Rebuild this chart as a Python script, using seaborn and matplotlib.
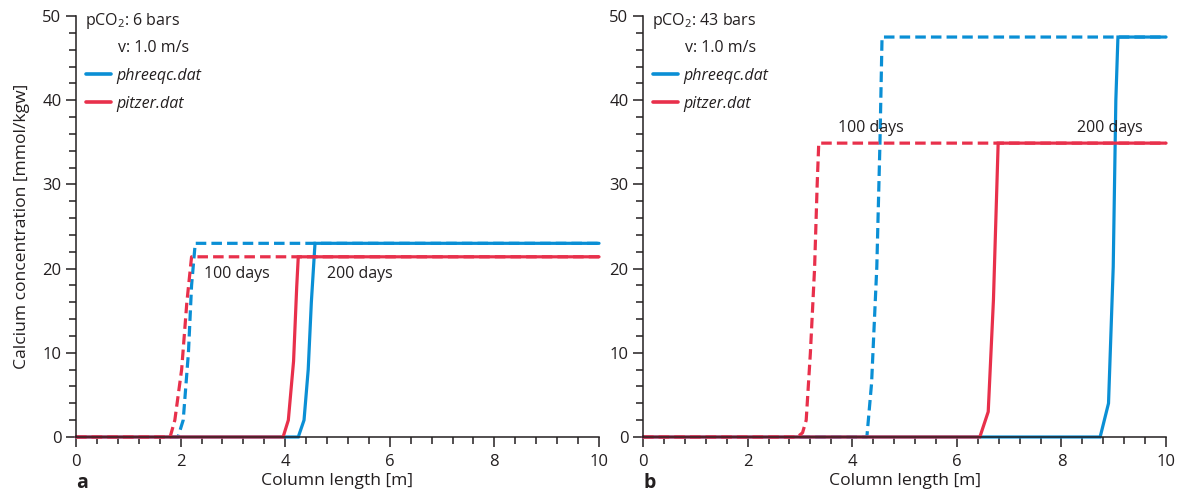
import matplotlib
matplotlib.use("Agg")
import matplotlib.pyplot as plt
from matplotlib.lines import Line2D
from matplotlib.ticker import MultipleLocator
import pandas as pd
import seaborn as sns

# Calcium breakthrough fronts (column length in m, Ca in mmol/kgw)
# Panel a: pCO2 = 6 bars
a_phreeqc_100_x = [0, 1.95, 2.05, 2.15, 2.21, 2.28, 10]
a_phreeqc_100_y = [0, 0, 2, 10, 18, 23.0, 23.0]
a_pitzer_100_x = [0, 1.80, 1.89, 2.02, 2.12, 2.21, 10]
a_pitzer_100_y = [0, 0, 2, 8, 16, 21.4, 21.4]
a_phreeqc_200_x = [0, 4.25, 4.36, 4.44, 4.50, 4.57, 10]
a_phreeqc_200_y = [0, 0, 2, 8, 16, 23.0, 23.0]
a_pitzer_200_x = [0, 3.96, 4.06, 4.16, 4.22, 4.25, 10]
a_pitzer_200_y = [0, 0, 2, 9, 17.8, 21.4, 21.4]

# Panel b: pCO2 = 43 bars
b_phreeqc_100_x = [0, 4.28, 4.37, 4.47, 4.53, 4.57, 10]
b_phreeqc_100_y = [0, 0, 6.4, 20.2, 34.9, 47.5, 47.5]
b_pitzer_100_x = [0, 2.95, 3.05, 3.12, 3.20, 3.28, 3.33, 3.36, 10]
b_pitzer_100_y = [0, 0, 0.5, 2, 10, 20, 30, 34.9, 34.9]
b_phreeqc_200_x = [0, 8.74, 8.90, 8.99, 9.04, 9.08, 10]
b_phreeqc_200_y = [0, 0, 4, 20.2, 40, 47.5, 47.5]
b_pitzer_200_x = [0, 6.44, 6.60, 6.70, 6.79, 10]
b_pitzer_200_y = [0, 0, 3, 16.3, 34.9, 34.9]

databases = ["phreeqc.dat", "pitzer.dat"]
panel_titles = ["6 bars", "43 bars"]
panel_letters = ["a", "b"]
day_labels = ["100 days", "200 days"]

BLUE = "#0a8fd5"
RED = "#e8304b"
INK = "#231f20"

sns.set_theme(style="ticks")
plt.rcParams["font.family"] = ["Open Sans", "DejaVu Sans"]
plt.rcParams["mathtext.default"] = "regular"
plt.rcParams["axes.edgecolor"] = INK
plt.rcParams["text.color"] = INK
plt.rcParams["xtick.color"] = INK
plt.rcParams["ytick.color"] = INK
plt.rcParams["axes.labelcolor"] = INK

FS = 11.5
FS_LABEL = 12.6
FS_TICK = 12.0


def frame(xs, ys, db, days):
    return pd.DataFrame({"x": xs, "y": ys, "db": db, "days": days})


panels = [
    pd.concat([
        frame(a_phreeqc_100_x, a_phreeqc_100_y, "phreeqc.dat", "100"),
        frame(a_phreeqc_200_x, a_phreeqc_200_y, "phreeqc.dat", "200"),
        frame(a_pitzer_100_x, a_pitzer_100_y, "pitzer.dat", "100"),
        frame(a_pitzer_200_x, a_pitzer_200_y, "pitzer.dat", "200"),
    ]),
    pd.concat([
        frame(b_phreeqc_100_x, b_phreeqc_100_y, "phreeqc.dat", "100"),
        frame(b_phreeqc_200_x, b_phreeqc_200_y, "phreeqc.dat", "200"),
        frame(b_pitzer_100_x, b_pitzer_100_y, "pitzer.dat", "100"),
        frame(b_pitzer_200_x, b_pitzer_200_y, "pitzer.dat", "200"),
    ]),
]

# text anchor positions for the "days" labels (data coords)
label_pos = [
    [(2.45, 19.4), (4.8, 19.4)],
    [(3.73, 36.7), (8.3, 36.7)],
]

colors = {"phreeqc.dat": BLUE, "pitzer.dat": RED}
styles = {"100": (0, (3.3, 1.6)), "200": "-"}

fig = plt.figure(figsize=(11.89, 4.95), dpi=100)
axes = [
    fig.add_axes([0.0639, 0.1172, 0.4399, 0.8505]),
    fig.add_axes([0.5408, 0.1172, 0.4399, 0.8505]),
]

for i, ax in enumerate(axes):
    df = panels[i]
    for db in databases:
        for days in ["100", "200"]:
            sub = df[(df.db == db) & (df.days == days)]
            sns.lineplot(data=sub, x="x", y="y", ax=ax, sort=False, estimator=None,
                         color=colors[db], linewidth=2.3, linestyle=styles[days],
                         solid_joinstyle="miter", clip_on=False)
    ax.set_xlim(0, 10)
    ax.set_ylim(0, 50)
    ax.xaxis.set_major_locator(MultipleLocator(2))
    ax.xaxis.set_minor_locator(MultipleLocator(0.4))
    ax.yaxis.set_major_locator(MultipleLocator(10))
    ax.yaxis.set_minor_locator(MultipleLocator(2))
    ax.tick_params(which="major", length=7.5, width=1.1, labelsize=FS_TICK)
    ax.tick_params(axis="x", which="major", pad=5)
    ax.tick_params(axis="y", which="major", pad=3)
    ax.tick_params(which="minor", length=4.8, width=1.1)
    for s in ["top", "right"]:
        ax.spines[s].set_visible(False)
    for s in ["left", "bottom"]:
        ax.spines[s].set_linewidth(1.1)
    ax.set_xlabel("Column length [m]", fontsize=FS_LABEL, labelpad=2)
    ax.set_ylabel("")

    for (tx, ty), txt in zip(label_pos[i], day_labels):
        ax.text(tx, ty, txt, fontsize=FS, va="center", ha="left")

    ax.text(0.017, 0.987, "pCO$_2$: " + panel_titles[i], transform=ax.transAxes,
            fontsize=FS, va="center", ha="left")
    ax.text(0.080, 0.925, "v: 1.0 m/s", transform=ax.transAxes,
            fontsize=FS, va="center", ha="left")

    handles = [Line2D([], [], color=colors[db], lw=2.6) for db in databases]
    ax.legend(handles, databases, loc="upper left", bbox_to_anchor=(0.0, 0.90),
              frameon=False, handlelength=1.6, handletextpad=0.35, labelspacing=0.75,
              borderaxespad=0.2, prop={"style": "italic", "size": FS})

    ax.text(0.0, -0.11, panel_letters[i], transform=ax.transAxes,
            fontsize=14, fontweight="bold", va="center", ha="left")

axes[0].set_ylabel("Calcium concentration [mmol/kgw]", fontsize=FS_LABEL, labelpad=9)

fig.savefig("out.png", dpi=100)
